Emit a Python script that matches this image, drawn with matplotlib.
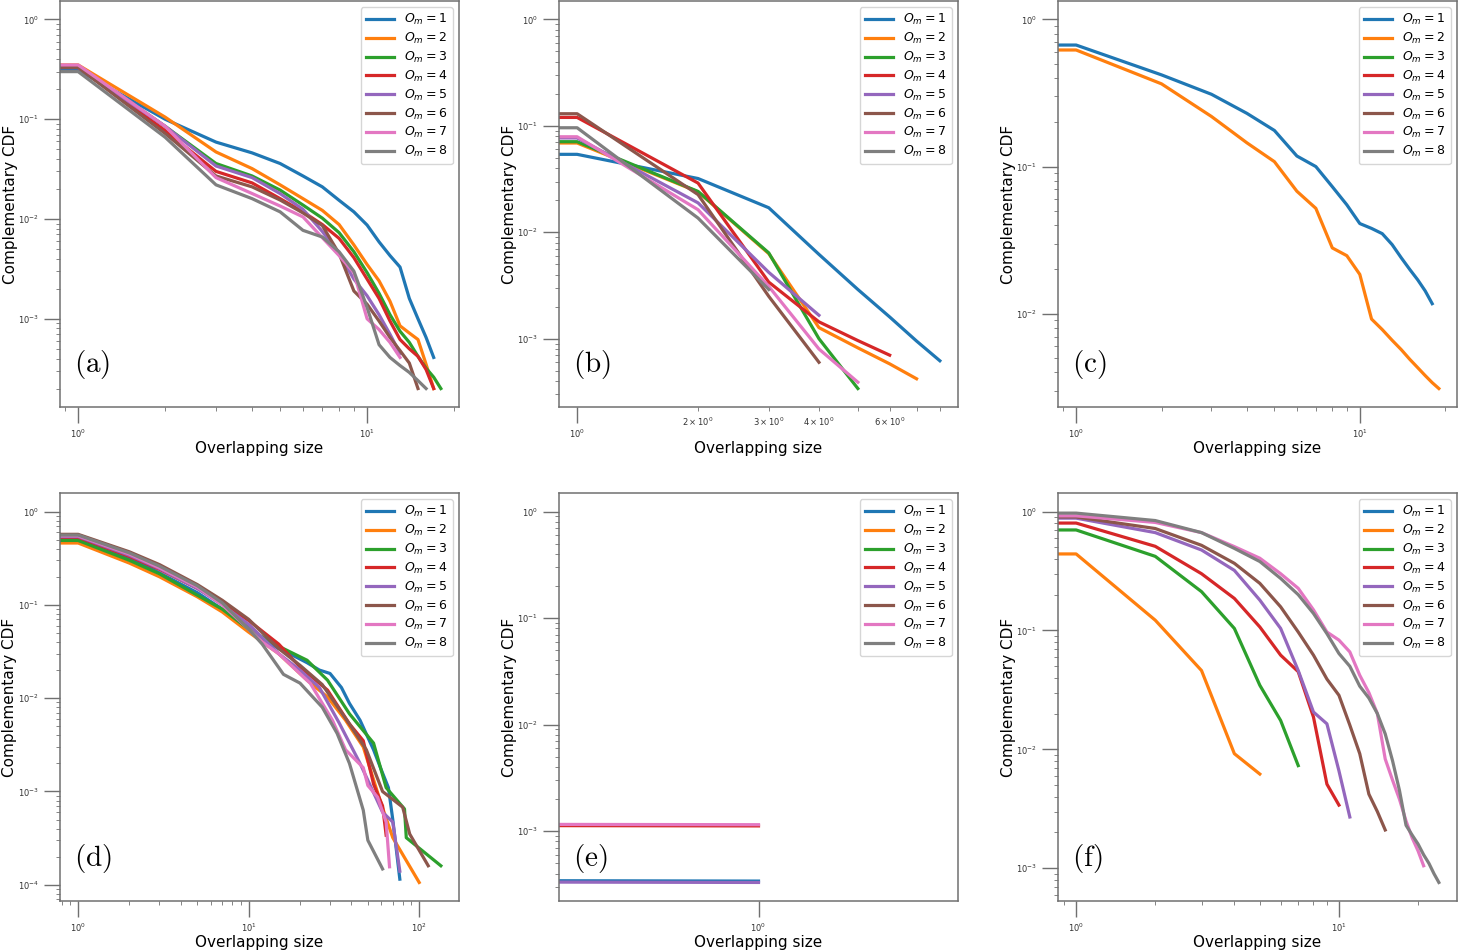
import matplotlib
matplotlib.use("Agg")
import matplotlib.pyplot as plt
from matplotlib.ticker import NullLocator

# complementary CDF values, index = overlapping size (x = 0, 1, 2, ...)
a1 = [1, 0.31, 0.10, 0.059, 0.046, 0.036, 0.027, 0.021, 0.0154, 0.0118, 0.0087, 0.0059, 0.0043, 0.0033, 0.0016, 0.001, 0.00065, 0.00041]
a2 = [1, 0.35, 0.105, 0.047, 0.032, 0.022, 0.016, 0.0122, 0.0088, 0.0055, 0.0035, 0.0024, 0.0015, 0.00085, 0.00072, 0.00062, 0.00035, 0.0002]
a3 = [1, 0.34, 0.085, 0.036, 0.027, 0.0195, 0.0138, 0.0102, 0.0073, 0.0047, 0.0029, 0.0018, 0.0011, 0.00075, 0.00058, 0.00042, 0.00032, 0.00026, 0.0002]
a4 = [1, 0.33, 0.077, 0.030, 0.023, 0.016, 0.0118, 0.0088, 0.0064, 0.0041, 0.0025, 0.0016, 0.00095, 0.00062, 0.0005, 0.00042, 0.00031, 0.0002]
a5 = [1, 0.33, 0.085, 0.034, 0.026, 0.018, 0.0125, 0.0075, 0.0045, 0.0025, 0.0017, 0.0011, 0.0007, 0.00045]
a6 = [1, 0.33, 0.072, 0.027, 0.021, 0.0155, 0.0115, 0.0086, 0.0045, 0.0019, 0.0014, 0.00095, 0.00065, 0.00048, 0.00036, 0.0002]
a7 = [1, 0.35, 0.085, 0.026, 0.018, 0.0135, 0.0105, 0.0065, 0.0043, 0.0029, 0.001, 0.00078, 0.00058, 0.00041]
a8 = [1, 0.30, 0.066, 0.022, 0.016, 0.0118, 0.0077, 0.0066, 0.0047, 0.003, 0.0013, 0.00055, 0.00041, 0.00034, 0.00029, 0.00024, 0.0002]

b1 = [1, 0.054, 0.032, 0.017, 0.0062, 0.0029, 0.0016, 0.00095, 0.00062]
b2 = [1, 0.069, 0.024, 0.0063, 0.00127, 0.00082, 0.00058, 0.00042]
b3 = [1, 0.071, 0.0242, 0.0064, 0.001, 0.00034]
b4 = [1, 0.12, 0.029, 0.0034, 0.00144, 0.00096, 0.0007]
b5 = [1, 0.077, 0.0189, 0.0042, 0.00166]
b6 = [1, 0.13, 0.0226, 0.0025, 0.0006]
b7 = [1, 0.079, 0.0163, 0.0031, 0.0008, 0.00039]
b8 = [1, 0.096, 0.0136, 0.0029]

c1 = [1, 0.67, 0.42, 0.31, 0.23, 0.176, 0.118, 0.1, 0.073, 0.055, 0.041, 0.038, 0.035, 0.0295, 0.024, 0.020, 0.017, 0.0143, 0.0117]
c2 = [1, 0.62, 0.365, 0.219, 0.145, 0.108, 0.068, 0.052, 0.028, 0.0248, 0.0185, 0.0092, 0.0078, 0.0066, 0.0057, 0.0049, 0.0043, 0.0038, 0.0034, 0.0031]

# panel (d) has irregular sizes, so x is kept per series
d1_x = [0, 1, 2, 3, 5, 7, 10, 12, 15, 18, 22, 26, 30, 35, 39, 45, 54, 60, 66, 70, 77]
d1_y = [1, 0.52, 0.32, 0.22, 0.135, 0.09, 0.058, 0.044, 0.034, 0.029, 0.024, 0.02, 0.0184, 0.013, 0.0088, 0.0058, 0.0028, 0.0017, 0.0011, 0.0005, 0.000115]
d2_x = [0, 1, 2, 3, 5, 7, 10, 15, 22, 29, 37, 47, 59, 70, 100]
d2_y = [1, 0.46, 0.28, 0.2, 0.122, 0.084, 0.051, 0.03, 0.0156, 0.0103, 0.0058, 0.003, 0.0008, 0.00032, 0.000106]
d3_x = [0, 1, 2, 3, 5, 7, 10, 15, 22, 29, 39, 54, 64, 82, 84, 134]
d3_y = [1, 0.49, 0.30, 0.215, 0.127, 0.09, 0.055, 0.036, 0.0255, 0.0156, 0.0068, 0.0033, 0.0011, 0.00065, 0.00032, 0.00016]
d4_x = [0, 1, 2, 3, 5, 7, 10, 15, 20, 29, 39, 47, 54, 61, 64]
d4_y = [1, 0.53, 0.33, 0.24, 0.15, 0.105, 0.068, 0.038, 0.0216, 0.0122, 0.0053, 0.0035, 0.0012, 0.0007, 0.00034]
d5_x = [0, 1, 2, 3, 5, 7, 10, 15, 20, 26, 34, 45, 61, 70, 77]
d5_y = [1, 0.54, 0.34, 0.245, 0.15, 0.1, 0.062, 0.03, 0.02, 0.013, 0.0054, 0.002, 0.0006, 0.00047, 0.00014]
d6_x = [0, 1, 2, 3, 5, 7, 10, 15, 20, 27, 39, 49, 61, 80, 88, 113]
d6_y = [1, 0.57, 0.37, 0.27, 0.165, 0.112, 0.07, 0.034, 0.0225, 0.014, 0.0053, 0.0028, 0.001, 0.00068, 0.00035, 0.00016]
d7_x = [0, 1, 2, 3, 5, 7, 10, 12, 15, 23, 31, 37, 47, 50, 57, 64, 67]
d7_y = [1, 0.55, 0.35, 0.25, 0.155, 0.1, 0.055, 0.04, 0.03, 0.0144, 0.0058, 0.0028, 0.0018, 0.00116, 0.00087, 0.00047, 0.000156]
d8_x = [0, 1, 2, 3, 5, 7, 10, 12, 16, 20, 27, 33, 39, 47, 50, 61]
d8_y = [1, 0.56, 0.36, 0.26, 0.16, 0.105, 0.055, 0.038, 0.018, 0.0145, 0.008, 0.0042, 0.002, 0.00063, 0.0003, 0.000148]

e1 = [1, 0.00034]
e4 = [1, 0.00112]
e5 = [1, 0.00033]
e7 = [1, 0.00115]

f2 = [1, 0.44, 0.122, 0.046, 0.0092, 0.0062]
f3 = [1, 0.70, 0.42, 0.212, 0.104, 0.0346, 0.0175, 0.0073]
f4 = [1, 0.80, 0.51, 0.30, 0.186, 0.107, 0.062, 0.045, 0.0187, 0.0051, 0.0034]
f5 = [1, 0.88, 0.665, 0.475, 0.32, 0.18, 0.104, 0.046, 0.0206, 0.0164, 0.0066, 0.0027]
f6 = [1, 0.9, 0.72, 0.52, 0.367, 0.249, 0.158, 0.097, 0.062, 0.039, 0.0285, 0.016, 0.0092, 0.0042, 0.003, 0.0021]
f7 = [1, 0.92, 0.81, 0.665, 0.507, 0.405, 0.30, 0.226, 0.149, 0.097, 0.083, 0.066, 0.042, 0.03, 0.02, 0.0083, 0.0055, 0.0038, 0.0025, 0.0018, 0.0014, 0.00105]
f8 = [1, 0.97, 0.84, 0.665, 0.49, 0.38, 0.274, 0.2, 0.139, 0.094, 0.064, 0.05, 0.034, 0.027, 0.02, 0.0135, 0.008, 0.0045, 0.0023, 0.0019, 0.0016, 0.0013, 0.0011, 0.0009, 0.00076]

panel_labels = ["a", "b", "c", "d", "e", "f"]
series_names = [r"$O_m = %d$" % k for k in range(1, 9)]


def idx(y):
    return list(range(len(y)))


# each panel: list of 8 (x, y) pairs, empty for missing series
panels = [
    [(idx(y), y) for y in [a1, a2, a3, a4, a5, a6, a7, a8]],
    [(idx(y), y) for y in [b1, b2, b3, b4, b5, b6, b7, b8]],
    [(idx(y), y) for y in [c1, c2, [], [], [], [], [], []]],
    [(d1_x, d1_y), (d2_x, d2_y), (d3_x, d3_y), (d4_x, d4_y),
     (d5_x, d5_y), (d6_x, d6_y), (d7_x, d7_y), (d8_x, d8_y)],
    [(idx(y), y) for y in [e1, [], [], e4, e5, [], e7, []]],
    [(idx(y), y) for y in [[], f2, f3, f4, f5, f6, f7, f8]],
]

plt.rcParams["axes.edgecolor"] = "#707070"
plt.rcParams["axes.linewidth"] = 1.1
plt.rcParams["xtick.major.size"] = 11.5
plt.rcParams["ytick.major.size"] = 11.5
plt.rcParams["xtick.major.width"] = 1.0
plt.rcParams["ytick.major.width"] = 1.0
plt.rcParams["xtick.minor.size"] = 3
plt.rcParams["ytick.minor.size"] = 3
plt.rcParams["xtick.color"] = "#707070"
plt.rcParams["ytick.color"] = "#707070"
plt.rcParams["xtick.labelcolor"] = "#333333"
plt.rcParams["ytick.labelcolor"] = "#333333"
plt.rcParams["xtick.labelsize"] = 6
plt.rcParams["ytick.labelsize"] = 6

W, H = 1458, 951
fig = plt.figure(figsize=(W / 100, H / 100), dpi=100)

# axes boxes in pixels: left, top, width, height
lefts = [60, 559, 1058]
tops = [1, 493]
heights = [406, 408]

for i, series in enumerate(panels):
    row, col = divmod(i, 3)
    l = lefts[col]
    t = tops[row]
    h = heights[row]
    ax = fig.add_axes([l / W, (H - t - h) / H, 399 / W, h / H])
    for (xs, ys), name in zip(series, series_names):
        ax.plot(xs, ys, lw=2.3, label=name)
    ax.set_xscale("log")
    ax.set_yscale("log")
    if i == 4:
        ax.set_xlim(0.12, 1 / 0.12)
        ax.set_xticks([1])
        ax.xaxis.set_minor_locator(NullLocator())
    ax.set_xlabel("Overlapping size", fontsize=11, labelpad=0.5)
    ax.set_ylabel("Complementary CDF", fontsize=11, labelpad=0.5)
    ax.legend(loc="upper right", fontsize=9, handlelength=2.3,
              labelspacing=0.3)
    ax.text(0.035, 0.085, r"$\mathrm{(%s)}$" % panel_labels[i],
            transform=ax.transAxes, fontsize=21, math_fontfamily="cm")

fig.savefig("out.png", dpi=100)
